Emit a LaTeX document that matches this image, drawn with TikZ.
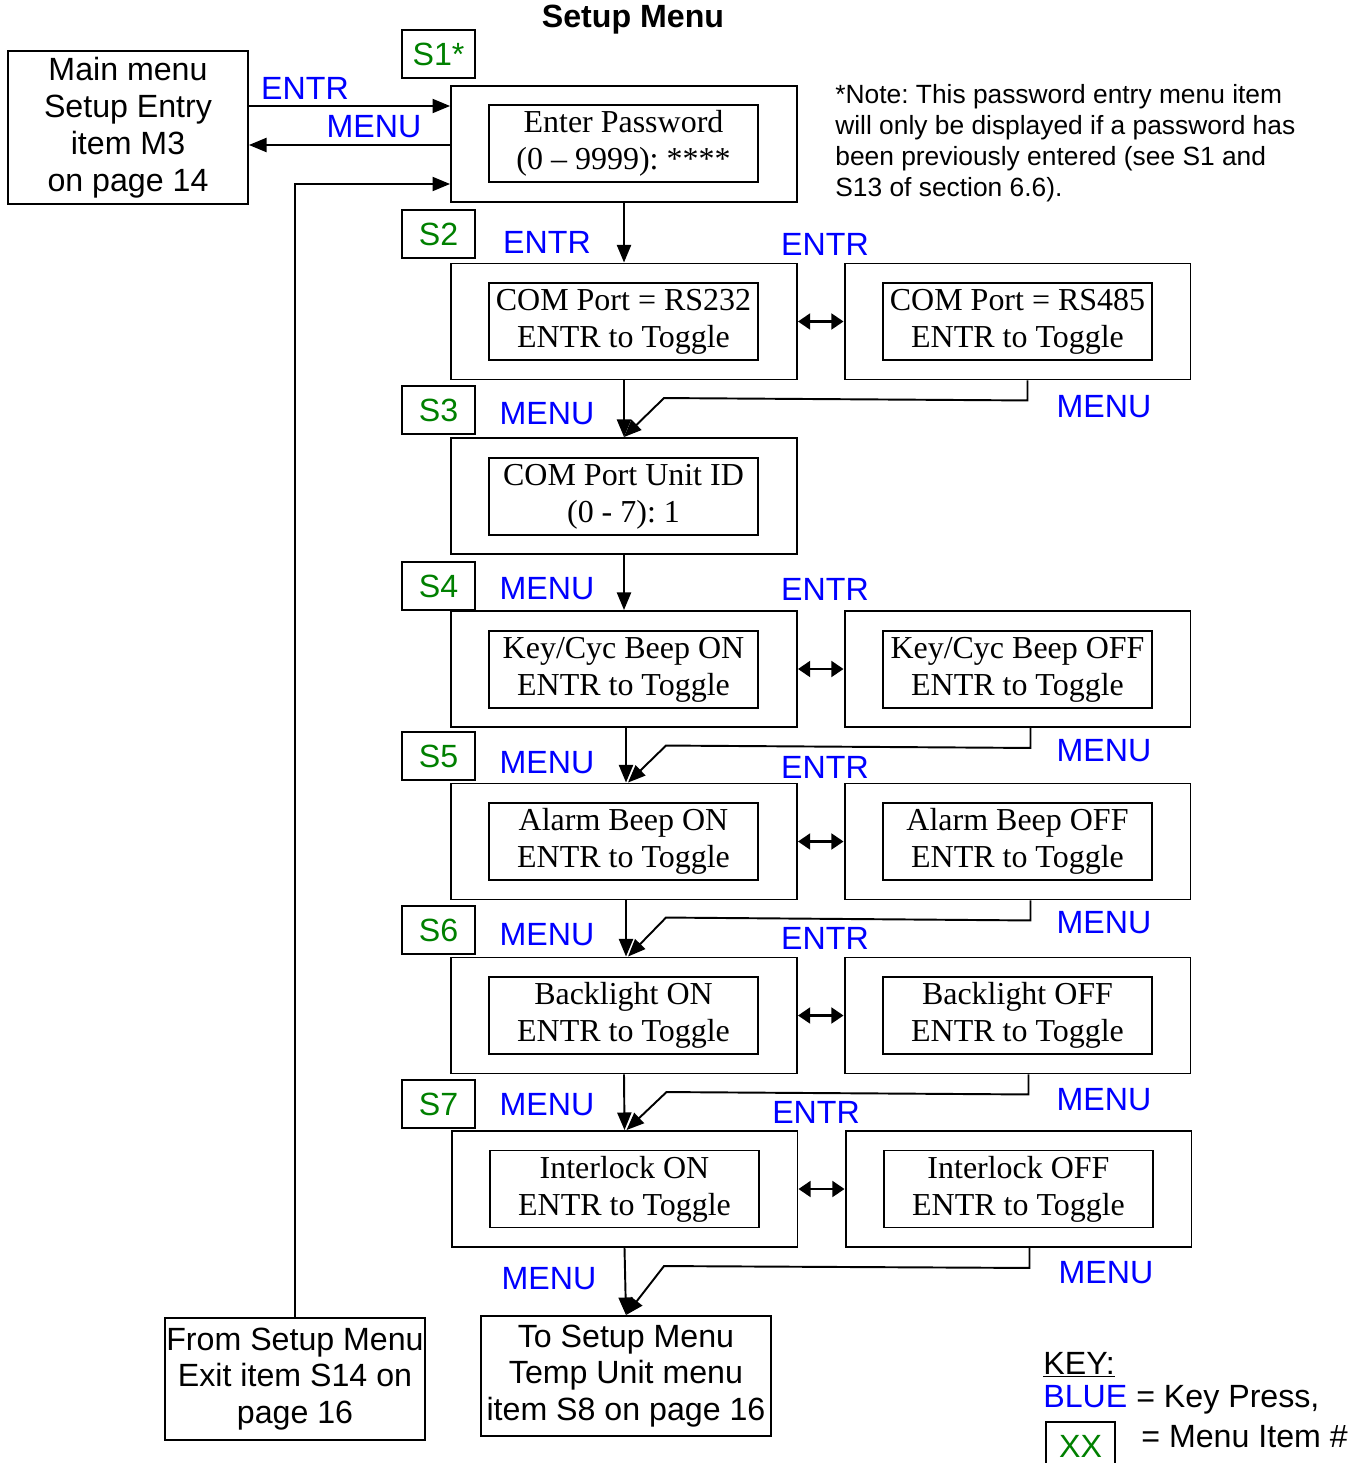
\documentclass[tikz,border=0pt]{standalone}
\usepackage{fontspec}
\setmainfont{Liberation Serif}
\setsansfont{Liberation Sans}
\usetikzlibrary{arrows.meta,calc}
\frenchspacing
\definecolor{keyblue}{RGB}{0,0,255}
\definecolor{itemgreen}{RGB}{0,128,0}
\tikzset{
  outer/.style={draw,line width=1.1pt,minimum width=6.92cm,minimum height=2.32cm},
  screen/.style={draw,line width=1.1pt,minimum width=5.38cm,minimum height=1.54cm,
    align=center,inner sep=0pt,font=\fontsize{18.2}{21}\selectfont},
  itembox/.style={draw,line width=1.1pt,minimum width=1.46cm,minimum height=0.96cm,
    inner sep=0pt,text=itemgreen,font=\sffamily\fontsize{18.3}{21}\selectfont},
  pagebox/.style={draw,line width=1.1pt,align=center,inner sep=1pt,
    font=\sffamily\fontsize{18.3}{21}\selectfont},
  keypress/.style={text=keyblue,inner sep=0pt,font=\sffamily\fontsize{18.3}{21}\selectfont},
  arr/.style={-{Triangle[length=10pt,width=8pt]},line width=1.1pt},
  dbl/.style={{Triangle[length=7pt,width=9pt]}-{Triangle[length=7pt,width=9pt]},line width=1.6pt},
  plain/.style={line width=1.1pt}
}
\begin{document}
\begin{tikzpicture}[x=0.02cm,y=-0.02cm]
\useasboundingbox (0,0) rectangle (1364,1463);
\node[font=\sffamily\bfseries\fontsize{18.3}{21}\selectfont] (title) at (633,20) {Setup Menu};
% entry and exit boxes
\node[pagebox,minimum width=4.8cm,minimum height=3.06cm] (mainmenu) at (128,127.5) {Main menu\\Setup Entry\\item M3\\on page 14};
\node[pagebox,minimum width=5.2cm,minimum height=2.44cm] (fromexit) at (295,1379) {From Setup Menu\\Exit item S14 on\\page 16};
\node[pagebox,minimum width=5.8cm,minimum height=2.4cm] (totemp) at (626,1376) {To Setup Menu\\Temp Unit menu\\item S8 on page 16};
% menu item numbers
\node[itembox] (nS1) at (438.5,54) {S1*};
\node[itembox] (nS2) at (438.5,234) {S2};
\node[itembox] (nS3) at (438.5,410) {S3};
\node[itembox] (nS4) at (438.5,586) {S4};
\node[itembox] (nS5) at (438.5,756) {S5};
\node[itembox] (nS6) at (438.5,930) {S6};
\node[itembox] (nS7) at (438.5,1104) {S7};
% screens
\node[outer] (pw) at (624,144) {};
\node[screen] (pwtext) at (623.5,143.5) {Enter Password\\(0 -- 9999): ****};
\node[outer] (com) at (624,321.5) {};
\node[screen] (comtext) at (623.5,321.5) {COM Port = RS232\\ENTR to Toggle};
\node[outer] (comr) at (1017.5,321.5) {};
\node[screen] (comrtext) at (1017.5,321.5) {COM Port = RS485\\ENTR to Toggle};
\node[outer] (unit) at (624,496) {};
\node[screen] (unittext) at (623.5,496.5) {COM Port Unit ID\\(0 - 7): 1};
\node[outer] (key) at (624,669) {};
\node[screen] (keytext) at (623.5,669.5) {Key/Cyc Beep ON\\ENTR to Toggle};
\node[outer] (keyr) at (1017.5,669) {};
\node[screen] (keyrtext) at (1017.5,669.5) {Key/Cyc Beep OFF\\ENTR to Toggle};
\node[outer] (alarm) at (624,841.5) {};
\node[screen] (alarmtext) at (623.5,841.5) {Alarm Beep ON\\ENTR to Toggle};
\node[outer] (alarmr) at (1017.5,841.5) {};
\node[screen] (alarmrtext) at (1017.5,841.5) {Alarm Beep OFF\\ENTR to Toggle};
\node[outer] (back) at (624,1015.5) {};
\node[screen] (backtext) at (623.5,1015.5) {Backlight ON\\ENTR to Toggle};
\node[outer] (backr) at (1017.5,1015.5) {};
\node[screen] (backrtext) at (1017.5,1015.5) {Backlight OFF\\ENTR to Toggle};
\node[outer] (lock) at (624.5,1189) {};
\node[screen] (locktext) at (624.5,1189) {Interlock ON\\ENTR to Toggle};
\node[outer] (lockr) at (1018.5,1189) {};
\node[screen] (lockrtext) at (1018.5,1189) {Interlock OFF\\ENTR to Toggle};
% key presses
\node[keypress] (kEntr0) at (305,88) {ENTR};
\node[keypress] (kMenu0) at (374,127) {MENU};
\node[keypress] (kEntr1) at (547,242) {ENTR};
\node[keypress] (kEntr2) at (825,244) {ENTR};
\node[keypress] (kMenu1) at (547,414) {MENU};
\node[keypress] (kMenu2) at (1104,407) {MENU};
\node[keypress] (kMenu3) at (547,589) {MENU};
\node[keypress] (kEntr3) at (825,589) {ENTR};
\node[keypress] (kMenu4) at (547,763) {MENU};
\node[keypress] (kMenu5) at (1104,751) {MENU};
\node[keypress] (kEntr4) at (825,767) {ENTR};
\node[keypress] (kMenu6) at (547,935) {MENU};
\node[keypress] (kMenu7) at (1104,923) {MENU};
\node[keypress] (kEntr5) at (825,938) {ENTR};
\node[keypress] (kMenu8) at (547,1105) {MENU};
\node[keypress] (kMenu9) at (1104,1100) {MENU};
\node[keypress] (kEntr6) at (816,1112) {ENTR};
\node[keypress] (kMenu10) at (549,1279) {MENU};
\node[keypress] (kMenu11) at (1106,1273) {MENU};
% note and key
\node[anchor=north west,align=left,inner sep=0pt,font=\sffamily\fontsize{15}{17.6}\selectfont] (note) at (835,84)
  {*Note: This password entry menu item\\will only be displayed if a password has\\been previously entered (see S1 and\\S13 of section 6.6).};
\node[anchor=west,inner sep=0pt,font=\sffamily\fontsize{18.3}{21}\selectfont] (keyhead) at (1043,1365) {\underline{KEY:}};
\node[anchor=west,inner sep=0pt,font=\sffamily\fontsize{18.3}{21}\selectfont] (keyblue) at (1043,1400) {\textcolor{keyblue}{BLUE} = Key Press,};
\node[itembox,minimum width=1.38cm] (keyitem) at (1080.5,1446) {XX};
\node[anchor=west,inner sep=0pt,font=\sffamily\fontsize{18.3}{21}\selectfont] (keyitemtext) at (1141,1437) {= Menu Item \#};
% connectors
\draw[arr] (mainmenu.east |- 0,106) -- (pw.west |- 0,106);
\draw[arr] (pw.west |- 0,145) -- (mainmenu.east |- 0,145);
\draw[arr] (fromexit.north) |- (pw.west |- 0,184);
\draw[arr] (pw.south) -- (com.north);
\draw[dbl] (com.east) -- (comr.west);
\draw[arr] (com.south) -- (unit.north);
\draw[arr] ($(comr.south)+(10,0)$) -- ++(0,20) -- ($(unit.north)+(40,-39)$) -- (unit.north);
\draw[arr] (unit.south) -- (key.north);
\draw[dbl] (key.east) -- (keyr.west);
\draw[arr] ($(key.south)+(2,0)$) -- ($(alarm.north)+(2,0)$);
\draw[arr] ($(keyr.south)+(13,0)$) -- ++(0,20) -- ($(alarm.north)+(42,-37)$) -- ($(alarm.north)+(4,0)$);
\draw[dbl] (alarm.east) -- (alarmr.west);
\draw[arr] ($(alarm.south)+(2,0)$) -- ($(back.north)+(2,0)$);
\draw[arr] ($(alarmr.south)+(13,0)$) -- ++(0,20) -- ($(back.north)+(42,-39)$) -- ($(back.north)+(4,0)$);
\draw[dbl] (back.east) -- (backr.west);
\draw[arr] (back.south) -- (lock.north);
\draw[arr] ($(backr.south)+(11,0)$) -- ++(0,20) -- ($(lock.north)+(42,-38)$) -- ($(lock.north)+(2,0)$);
\draw[dbl] (lock.east) -- (lockr.west);
\draw[arr] (lock.south) -- (totemp.north);
\draw[arr] ($(lockr.south)+(11,0)$) -- ++(0,20) -- ($(totemp.north)+(38,-49)$) -- (totemp.north);
\end{tikzpicture}
\end{document}
